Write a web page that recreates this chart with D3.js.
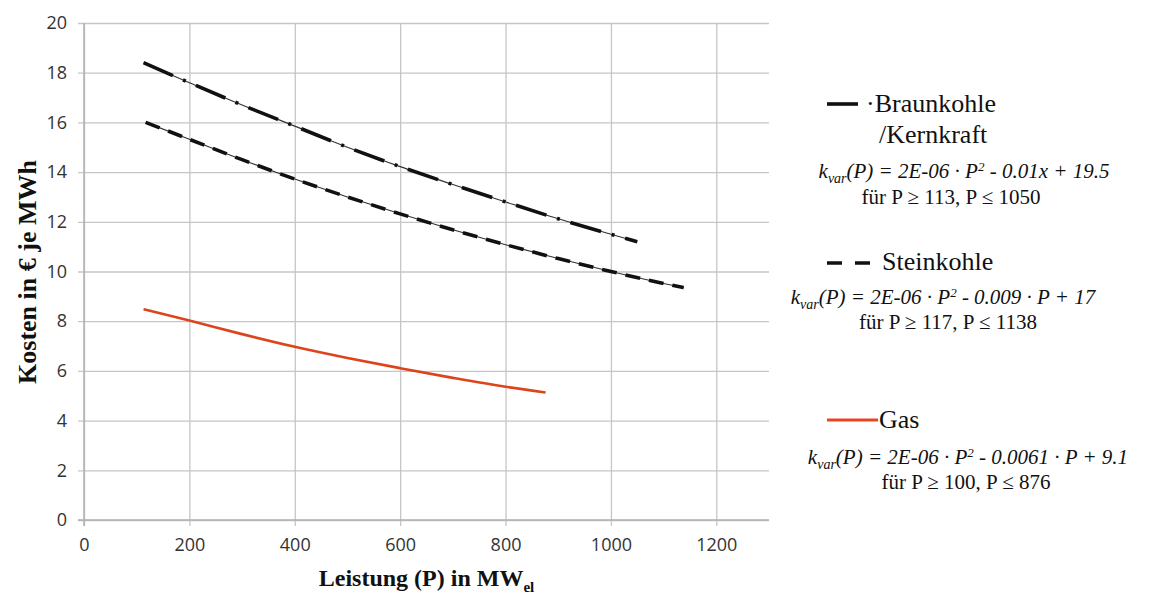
<!DOCTYPE html>
<html>
<head>
<meta charset="utf-8">
<script src="https://cdn.jsdelivr.net/npm/d3@7"></script>
<style>
  body { margin: 0; background: #fff; }
  .tick text { font-family: "Open Sans", sans-serif; font-size: 18px; fill: #333; }
</style>
</head>
<body>
<div id="chart"></div>
<script>
// values
var xTicks = [0, 200, 400, 600, 800, 1000, 1200];
var yTicks = [0, 2, 4, 6, 8, 10, 12, 14, 16, 18, 20];

var braunP = [113, 200, 300, 400, 500, 600, 700, 800, 900, 1000, 1050];
var braunK = [18.4, 17.6, 16.7, 15.85, 15.0, 14.22, 13.5, 12.8, 12.12, 11.5, 11.2];

var steinP = [117, 200, 300, 400, 500, 600, 700, 800, 900, 1000, 1100, 1138];
var steinK = [16.0, 15.32, 14.5, 13.72, 13.0, 12.32, 11.68, 11.08, 10.52, 10.0, 9.52, 9.35];

var gasP = [113, 200, 300, 400, 500, 600, 700, 800, 876];
var gasK = [8.48, 8.03, 7.48, 6.97, 6.52, 6.11, 5.72, 5.36, 5.13];

var W = 1150, H = 595;
var plotL = 84, plotR = 769, plotT = 23, plotB = 520;
var SERIF = '"Liberation Serif", "Times New Roman", "DejaVu Serif", serif';

var svg = d3.select("#chart").append("svg")
  .attr("width", W)
  .attr("height", H);

var x = d3.scaleLinear().domain([0, 1300]).range([plotL, plotR]);
var y = d3.scaleLinear().domain([0, 20]).range([plotB, plotT]);

// grid + y labels
var gy = svg.append("g")
  .attr("transform", "translate(" + plotL + ",0)")
  .call(d3.axisLeft(y).tickValues(yTicks).tickSize(-(plotR - plotL)).tickPadding(17));
gy.select(".domain").remove();
gy.selectAll(".tick line").attr("x1", -6).attr("stroke", "#c6c6c6").attr("stroke-width", 1.3);

var gx = svg.append("g")
  .attr("transform", "translate(0," + plotB + ")")
  .call(d3.axisBottom(x).tickValues(xTicks).tickFormat(d3.format("d"))
    .tickSize(-(plotB - plotT)).tickPadding(18));
gx.select(".domain").remove();
gx.selectAll(".tick line").attr("y1", 6).attr("stroke", "#c6c6c6").attr("stroke-width", 1.3);

// axis lines a little darker
svg.append("line").attr("x1", plotL - 6).attr("x2", plotR).attr("y1", y(0)).attr("y2", y(0))
  .attr("stroke", "#b0b0b0").attr("stroke-width", 1.5);
svg.append("line").attr("x1", x(0)).attr("x2", x(0)).attr("y1", plotT).attr("y2", plotB + 6)
  .attr("stroke", "#b0b0b0").attr("stroke-width", 1.5);

var line = d3.line()
  .x(function(d) { return x(d[0]); })
  .y(function(d) { return y(d[1]); })
  .curve(d3.curveMonotoneX);

function pairs(a, b) { return a.map(function(v, i) { return [v, b[i]]; }); }

var braun = pairs(braunP, braunK);
var stein = pairs(steinP, steinK);
var gas = pairs(gasP, gasK);

// Braunkohle: thin line with thick dash-dot over it
svg.append("path").datum(braun).attr("d", line)
  .attr("fill", "none").attr("stroke", "#333").attr("stroke-width", 1.1);
svg.append("path").datum(braun).attr("d", line)
  .attr("fill", "none").attr("stroke", "#111").attr("stroke-width", 3.6)
  .attr("stroke-dasharray", "32,11,3,11");

// Steinkohle: thin line with thick dashes
svg.append("path").datum(stein).attr("d", line)
  .attr("fill", "none").attr("stroke", "#333").attr("stroke-width", 1.1);
svg.append("path").datum(stein).attr("d", line)
  .attr("fill", "none").attr("stroke", "#111").attr("stroke-width", 3.6)
  .attr("stroke-dasharray", "15,9");

// Gas
svg.append("path").datum(gas).attr("d", line)
  .attr("fill", "none").attr("stroke", "#dc451b").attr("stroke-width", 2.6);

function serifText(px) {
  return svg.append("text")
    .style("font-family", SERIF)
    .style("font-size", px + "px")
    .attr("fill", "#111");
}

// axis titles
serifText(26)
  .attr("transform", "translate(36,272) rotate(-90)")
  .attr("text-anchor", "middle")
  .style("font-weight", "bold")
  .text("Kosten in € je MWh");

var xt = serifText(24)
  .attr("x", (plotL + plotR) / 2).attr("y", 586)
  .attr("text-anchor", "middle")
  .style("font-weight", "bold");
xt.append("tspan").text("Leistung (P) in MW");
xt.append("tspan").attr("dy", 6).style("font-size", "15px").text("el");

// legend
function formula(cx, cy, body) {
  var t = serifText(21)
    .attr("x", cx).attr("y", cy).attr("text-anchor", "middle")
    .style("font-style", "italic");
  t.append("tspan").text("k");
  t.append("tspan").attr("dy", 5).style("font-size", "14px").text("var");
  t.append("tspan").attr("dy", -5).text("(P) = 2E-06 · P");
  t.append("tspan").attr("dy", -7).style("font-size", "13px").text("2");
  t.append("tspan").attr("dy", 7).text(body);
}
function plain(cx, cy, s) {
  serifText(21).attr("x", cx).attr("y", cy).attr("text-anchor", "middle").text(s);
}

// Braunkohle entry
svg.append("line").attr("x1", 827).attr("x2", 858).attr("y1", 104).attr("y2", 104)
  .attr("stroke", "#111").attr("stroke-width", 3.6);
serifText(26).attr("x", 866).attr("y", 112).text("·Braunkohle");
serifText(26).attr("x", 879).attr("y", 143).text("/Kernkraft");
formula(964, 178, " - 0.01x + 19.5");
plain(951, 204, "für P ≥ 113, P ≤ 1050");

// Steinkohle entry
svg.append("line").attr("x1", 827).attr("x2", 870).attr("y1", 263).attr("y2", 263)
  .attr("stroke", "#111").attr("stroke-width", 3.6).attr("stroke-dasharray", "15,13");
serifText(26).attr("x", 882).attr("y", 270).text("Steinkohle");
formula(943, 304, " - 0.009 · P + 17");
plain(948, 329, "für P ≥ 117, P ≤ 1138");

// Gas entry
svg.append("line").attr("x1", 827).attr("x2", 878).attr("y1", 420).attr("y2", 420)
  .attr("stroke", "#e8461c").attr("stroke-width", 3.2);
serifText(26).attr("x", 879).attr("y", 428).text("Gas");
formula(968, 464, " - 0.0061 · P + 9.1");
plain(966, 489, "für P ≥ 100, P ≤ 876");
</script>
</body>
</html>
